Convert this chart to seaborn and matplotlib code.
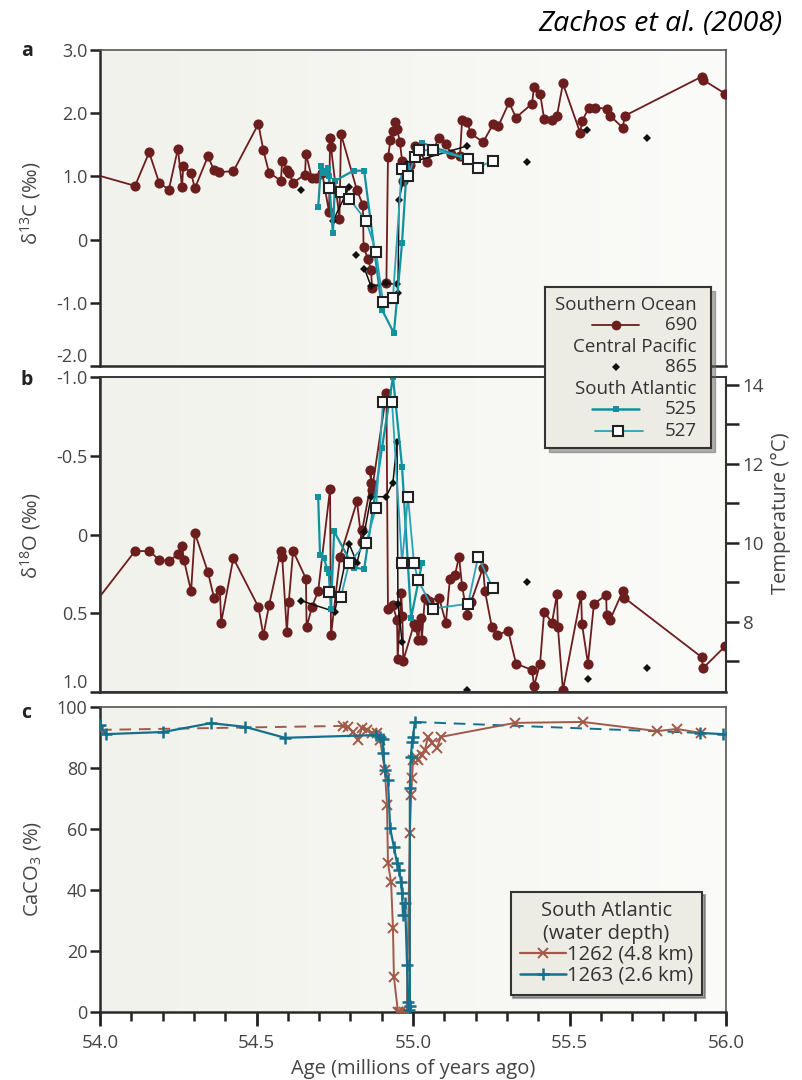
import numpy as np
import pandas as pd
import matplotlib.pyplot as plt
import matplotlib.ticker as mticker
from matplotlib.colors import LinearSegmentedColormap
from matplotlib.lines import Line2D
from matplotlib.patches import Rectangle
import seaborn as sns

# ---------------- panel a : d13C ----------------
a690_age = [53.97, 54.112, 54.157, 54.189, 54.22, 54.249, 54.262, 54.266, 54.291, 54.303, 54.345, 54.364,
            54.38, 54.426, 54.506, 54.522, 54.54, 54.578, 54.582, 54.598, 54.604, 54.617, 54.655, 54.658,
            54.677, 54.69, 54.71, 54.732, 54.735, 54.738, 54.765, 54.77, 54.821, 54.84, 54.842, 54.856,
            54.866, 54.869, 54.915, 54.92, 54.928, 54.935, 54.942, 54.949, 54.958, 54.965, 54.968, 54.99,
            55.006, 55.045, 55.083, 55.105, 55.121, 55.15, 55.157, 55.173, 55.185, 55.224, 55.256, 55.272,
            55.307, 55.329, 55.38, 55.387, 55.406, 55.419, 55.444, 55.46, 55.479, 55.534, 55.54, 55.562,
            55.58, 55.62, 55.63, 55.67, 55.677, 55.923, 55.926, 55.997]
a690_val = [1.05, 0.85, 1.38, 0.90, 0.79, 1.44, 0.83, 1.16, 1.06, 0.81, 1.32, 1.10,
            1.07, 1.08, 1.83, 1.41, 1.06, 0.93, 1.25, 1.10, 1.05, 0.90, 1.03, 1.36,
            0.97, 0.97, 1.05, 0.43, 1.60, 1.46, 0.33, 1.67, 0.78, 0.55, -0.11, -0.31,
            -0.48, -0.76, -0.68, 1.30, 1.57, 1.72, 1.86, 1.75, 1.55, 1.25, 0.93, 1.18,
            1.48, 1.22, 1.61, 1.52, 1.36, 1.33, 1.90, 1.86, 1.68, 1.54, 1.83, 1.79,
            2.17, 1.93, 2.15, 2.42, 2.31, 1.91, 1.90, 1.96, 2.47, 1.69, 1.87, 2.09,
            2.09, 2.07, 1.96, 1.77, 1.96, 2.58, 2.53, 2.31]

a865_age = [54.642, 54.745, 54.796, 54.818, 54.845, 54.866, 54.914, 54.95, 54.952, 54.955, 54.98,
            55.172, 55.364, 55.556, 55.748]
a865_val = [0.78, 0.30, 0.83, -0.25, -0.46, -0.74, -0.69, -0.71, -0.85, 0.62, 1.20,
            1.48, 1.23, 1.74, 1.61]
a865_seg = [0, 1, 1, 2, 3, 3, 3, 3, 3, 3, 3, 3, 4, 5, 6]

a525_age = [54.697, 54.706, 54.712, 54.719, 54.728, 54.731, 54.744, 54.751, 54.81, 54.844, 54.901,
            54.939, 54.965, 54.98, 55.029, 55.16]
a525_val = [0.51, 1.17, 1.05, 1.09, 1.14, 1.00, 0.10, 0.93, 1.09, 1.09, -1.11,
            -1.48, -0.05, 1.14, 1.53, 1.30]

a527_age = [54.732, 54.77, 54.796, 54.85, 54.882, 54.904, 54.936, 54.964, 54.984, 55.006, 55.019,
            55.064, 55.176, 55.208, 55.255]
a527_val = [0.81, 0.76, 0.65, 0.30, -0.19, -0.98, -0.92, 1.12, 1.00, 1.30, 1.41,
            1.42, 1.28, 1.14, 1.25]

# ---------------- panel b : d18O ----------------
b690_age = [53.97, 54.112, 54.157, 54.189, 54.22, 54.249, 54.262, 54.268, 54.291, 54.303, 54.345, 54.364,
            54.383, 54.387, 54.426, 54.506, 54.522, 54.54, 54.578, 54.582, 54.597, 54.603, 54.617, 54.658,
            54.66, 54.677, 54.697, 54.735, 54.738, 54.767, 54.821, 54.836, 54.838, 54.866, 54.863, 54.869,
            54.915, 54.92, 54.935, 54.949, 54.951, 54.962, 54.966, 54.969, 55.003, 55.01, 55.016, 55.025,
            55.028, 55.038, 55.05, 55.083, 55.105, 55.118, 55.134, 55.147, 55.157, 55.173, 55.185, 55.224,
            55.23, 55.252, 55.268, 55.304, 55.329, 55.38, 55.387, 55.406, 55.419, 55.444, 55.46, 55.463,
            55.479, 55.537, 55.54, 55.559, 55.578, 55.617, 55.619, 55.63, 55.67, 55.674, 55.923, 55.926,
            55.997]
b690_val = [0.47, 0.105, 0.105, 0.16, 0.17, 0.125, 0.07, 0.16, 0.36, -0.01, 0.24, 0.40,
            0.35, 0.56, 0.15, 0.46, 0.64, 0.45, 0.105, 0.14, 0.62, 0.43, 0.105, 0.28,
            0.59, 0.46, 0.36, -0.29, 0.64, 0.14, -0.21, 0.05, -0.03, -0.33, -0.41, -0.28,
            -0.90, 0.47, 0.45, 0.54, 0.79, 0.37, 0.52, 0.80, 0.57, 0.59, 0.67, 0.53,
            0.67, 0.40, 0.42, 0.40, 0.56, 0.28, 0.26, 0.14, 0.33, 0.51, 0.43, 0.21,
            0.36, 0.59, 0.64, 0.61, 0.82, 0.86, 0.96, 0.82, 0.49, 0.56, 0.38, 0.59,
            0.99, 0.385, 0.57, 0.82, 0.44, 0.385, 0.51, 0.54, 0.36, 0.40, 0.78, 0.85,
            0.71]

b865_age = [54.642, 54.75, 54.796, 54.821, 54.845, 54.866, 54.914, 54.936, 54.949, 54.952, 54.965,
            55.173, 55.364, 55.559, 55.748]
b865_val = [0.42, 0.49, 0.06, 0.18, -0.015, -0.24, -0.24, -0.33, -0.59, 0.44, 0.68,
            0.99, 0.30, 0.92, 0.85]
b865_seg = [0, 0, 0, 0, 0, 0, 0, 0, 0, 0, 0, 1, 2, 3, 4]

b525_age = [54.697, 54.703, 54.716, 54.725, 54.731, 54.738, 54.748, 54.81, 54.844, 54.901, 54.936,
            54.965, 54.994, 55.029]
b525_val = [-0.24, 0.13, 0.15, 0.22, 0.245, 0.47, -0.02, 0.21, 0.22, -0.55, -1.00,
            -0.43, 0.53, 0.18]

b527_age = [54.732, 54.77, 54.796, 54.85, 54.882, 54.904, 54.933, 54.965, 54.984, 55.003, 55.016,
            55.064, 55.176, 55.208, 55.255]
b527_val = [0.365, 0.395, 0.18, 0.055, -0.17, -0.84, -0.84, 0.18, -0.24, 0.18, 0.29,
            0.47, 0.44, 0.14, 0.34]

# ---------------- panel c : CaCO3 ----------------
c1262_age = [54.0, 54.776, 54.792, 54.808, 54.824, 54.837, 54.853, 54.869, 54.885, 54.895, 54.91,
             54.917, 54.92, 54.93, 54.936, 54.939, 54.952, 54.96, 54.97, 54.98, 54.99, 54.994,
             54.997, 55.0, 55.01, 55.016, 55.029, 55.038, 55.048, 55.06, 55.077, 55.089, 55.326,
             55.543, 55.78, 55.843, 55.92]
c1262_val = [92.5, 93.8, 93.4, 91.8, 89.2, 93.1, 92.5, 91.5, 91.5, 89.2, 79.3,
             67.9, 48.8, 42.6, 27.5, 11.5, 0.0, 0.0, 0.0, 0.0, 58.7, 71.1,
             76.7, 82.6, 83.6, 82.6, 84.3, 85.9, 90.2, 88.2, 86.6, 90.2, 94.8,
             95.1, 92.1, 92.8, 91.5]
c1262_seg = [0] + [1] * 36

c1263_age = [54.0, 54.019, 54.201, 54.355, 54.463, 54.591, 54.882, 54.895, 54.904, 54.905, 54.91,
             54.92, 54.927, 54.939, 54.949, 54.955, 54.962, 54.965, 54.968, 54.975, 54.981, 54.984,
             54.987, 54.99, 54.99, 54.993, 54.997, 55.0, 55.006, 55.917, 55.99]
c1263_val = [94.1, 91.1, 91.8, 94.7, 93.5, 89.9, 90.8, 90.2, 89.5, 84.9, 79.3,
             76.0, 60.3, 54.1, 48.8, 46.6, 42.6, 39.0, 31.8, 35.7, 15.4, 3.3,
             0.7, 2.0, 73.4, 83.6, 88.5, 90.2, 95.1, 91.5, 91.1]
c1263_seg = [0] * 29 + [1] * 2

d18o_ticks = [-1.0, -0.5, 0, 0.5, 1.0]
d18o_labels = ['-1.0', '-0.5', '0', '0.5', '1.0']
d13c_ticks = [3.0, 2.0, 1.0, 0, -1.0, -2.0]
d13c_labels = ['3.0', '2.0', '1.0', '0', '-1.0', '-2.0']
temp_major = [8, 10, 12, 14]
temp_minor = [7, 9, 11, 13]
caco3_ticks = [0, 20, 40, 60, 80, 100]
age_ticks = [54.0, 54.5, 55.0, 55.5, 56.0]

# colours
C690 = '#6c1d1d'
C525 = '#12919f'
C527 = '#2ba3b7'
C865 = '#111111'
C1262 = '#a15a4a'
C1263 = '#15708d'
TXT = '#444444'

sns.set_theme(style='ticks')
plt.rcParams['font.family'] = ['Open Sans', 'DejaVu Sans']
plt.rcParams['axes.edgecolor'] = '#333333'

fig = plt.figure(figsize=(8.03, 10.8), dpi=100)
W, H = 803.0, 1080.0


def px_axes(left, top, right, bottom):
    return fig.add_axes([left / W, 1 - bottom / H, (right - left) / W, (bottom - top) / H])


ax_a = px_axes(100, 50, 726, 366)
ax_b = px_axes(100, 377, 726, 692)
ax_c = px_axes(100, 707, 726, 1012)

bg = LinearSegmentedColormap.from_list('bg', ['#f2f2ec', '#f6f6f2', '#fbfbf9'])
for ax in (ax_a, ax_b, ax_c):
    ax.imshow(np.linspace(0, 1, 256).reshape(1, -1), extent=[0, 1, 0, 1], transform=ax.transAxes,
              cmap=bg, aspect='auto', zorder=-5)
    for side in ['left', 'bottom']:
        ax.spines[side].set_linewidth(1.8)
        ax.spines[side].set_color('#2a2a2a')
    for side in ['top', 'right']:
        ax.spines[side].set_linewidth(1.2)
        ax.spines[side].set_color('#555555')
    ax.tick_params(axis='y', direction='out', length=7, width=1.8, color='#222222',
                   labelsize=13, labelcolor=TXT, pad=2)


def circles(ax, age, val):
    d = pd.DataFrame({'age': age, 'val': val})
    sns.lineplot(data=d, x='age', y='val', ax=ax, sort=False, estimator=None, color=C690, lw=1.3,
                 marker='o', markersize=7.3, markeredgewidth=0, markeredgecolor=C690, zorder=3)


def diamonds(ax, age, val, seg):
    d = pd.DataFrame({'age': age, 'val': val, 'seg': seg})
    sns.lineplot(data=d, x='age', y='val', units='seg', ax=ax, sort=False, estimator=None, color=C865,
                 lw=1.1, marker='D', markersize=3.6, markeredgewidth=0, markeredgecolor=C865, zorder=4)


def filled_sq(ax, age, val):
    d = pd.DataFrame({'age': age, 'val': val})
    sns.lineplot(data=d, x='age', y='val', ax=ax, sort=False, estimator=None, color=C525, lw=1.6,
                 marker='s', markersize=5, markeredgewidth=0, markeredgecolor=C525, zorder=5)


def open_sq(ax, age, val):
    d = pd.DataFrame({'age': age, 'val': val})
    sns.lineplot(data=d, x='age', y='val', ax=ax, sort=False, estimator=None, color=C527, lw=1.3,
                 marker='s', markersize=7.5, markerfacecolor='white', markeredgewidth=1.5,
                 markeredgecolor='#222222', zorder=6)


# panel a
circles(ax_a, a690_age, a690_val)
filled_sq(ax_a, a525_age, a525_val)
diamonds(ax_a, a865_age, a865_val, a865_seg)
open_sq(ax_a, a527_age, a527_val)
ax_a.set_ylim(-2.0, 3.0)
ax_a.set_yticks(d13c_ticks, d13c_labels)
ax_a.get_yticklabels()[-1].set_verticalalignment('bottom')
ax_a.set_ylabel(r'δ$^{\mathregular{13}}$C (‰)', fontsize=14.5, color=TXT)
ax_a.yaxis.set_label_coords(-0.091, 0.516)

# panel b
circles(ax_b, b690_age, b690_val)
filled_sq(ax_b, b525_age, b525_val)
diamonds(ax_b, b865_age, b865_val, b865_seg)
open_sq(ax_b, b527_age, b527_val)
ax_b.set_ylim(1.0, -1.0)
ax_b.set_yticks(d18o_ticks, d18o_labels)
ax_b.get_yticklabels()[-1].set_verticalalignment('bottom')
ax_b.set_ylabel(r'δ$^{\mathregular{18}}$O (‰)', fontsize=14.5, color=TXT)
ax_b.yaxis.set_label_coords(-0.091, 0.495)

# temperature scale (linear in d18O)
ax_t = ax_b.twinx()
t_of_d = lambda d: 10.21 - 3.99 * d
ax_t.set_ylim(t_of_d(1.0), t_of_d(-1.0))
ax_t.set_yticks(temp_major, [str(t) for t in temp_major])
ax_t.yaxis.set_minor_locator(mticker.FixedLocator(temp_minor))
ax_t.tick_params(axis='y', which='both', direction='out', length=9, width=1.8, color='#222222',
                 labelsize=13.5, labelcolor=TXT, pad=3)
ax_t.spines['right'].set_color('#333333')
ax_t.spines['right'].set_linewidth(1.5)
ax_t.set_ylabel('Temperature (°C)', fontsize=14.5, color=TXT)
ax_t.yaxis.set_label_coords(1.071, 0.568)

# panel c
d62 = pd.DataFrame({'age': c1262_age, 'val': c1262_val, 'seg': c1262_seg})
d63 = pd.DataFrame({'age': c1263_age, 'val': c1263_val, 'seg': c1263_seg})
# dashed gaps between segments
ax_c.plot(c1262_age[0:2], c1262_val[0:2], color=C1262, lw=1.4, dashes=(6, 4), zorder=2)
ax_c.plot(c1263_age[28:30], c1263_val[28:30], color=C1263, lw=1.4, dashes=(6, 4), zorder=2)
sns.lineplot(data=d62, x='age', y='val', units='seg', ax=ax_c, sort=False, estimator=None, color=C1262,
             lw=1.4, marker='x', markersize=7, markeredgewidth=1.4, markeredgecolor=C1262, zorder=3)
sns.lineplot(data=d63, x='age', y='val', units='seg', ax=ax_c, sort=False, estimator=None, color=C1263,
             lw=1.6, marker='+', markersize=9, markeredgewidth=1.8, markeredgecolor=C1263, zorder=4)
ax_c.set_ylim(0, 100)
ax_c.set_yticks(caco3_ticks, [str(t) for t in caco3_ticks])
ax_c.set_ylabel(r'CaCO$_{\mathregular{3}}$ (%)', fontsize=14.5, color=TXT)
ax_c.yaxis.set_label_coords(-0.091, 0.469)
ax_c.set_xlabel('Age (millions of years ago)', fontsize=14.5, color=TXT, labelpad=5)

for ax in (ax_a, ax_b, ax_c):
    ax.set_xlim(54.0, 56.0)
for ax in (ax_a, ax_b):
    ax.set_xlabel('')
    ax.tick_params(axis='x', bottom=False, labelbottom=False)

ax_c.set_xticks(age_ticks, [f'{t:.1f}' for t in age_ticks])
ax_c.xaxis.set_minor_locator(mticker.MultipleLocator(0.1))
ax_c.tick_params(axis='x', which='major', direction='out', length=10, width=2, color='#222222',
                 labelsize=13.5, labelcolor=TXT, pad=6)
ax_c.tick_params(axis='x', which='minor', direction='out', length=6.5, width=1.8, color='#222222')

leg_c = ax_c.legend(
    handles=[Line2D([], [], color=C1262, lw=1.6, marker='x', ms=7, mew=1.4),
             Line2D([], [], color=C1263, lw=1.8, marker='+', ms=9, mew=1.8)],
    labels=['1262 (4.8 km)', '1263 (2.6 km)'],
    title='South Atlantic\n(water depth)', fontsize=14.5, title_fontsize=14.5,
    loc='lower right', bbox_to_anchor=(0.962, 0.056), borderaxespad=0,
    handlelength=2.3, handletextpad=0.05, labelspacing=0.05, borderpad=0.45,
    frameon=True, fancybox=False, framealpha=1, facecolor='#ecece4', edgecolor='#333333',
    shadow={'color': '#555555', 'alpha': 0.5})
leg_c.get_frame().set_linewidth(1.5)
for t in leg_c.get_texts():
    t.set_color('#333333')
leg_c.get_title().set_color('#333333')
leg_c.get_title().set_multialignment('center')

# legend shared by panels a and b (drawn as its own box)
L, T, R, B = 545, 287, 711, 448
fig.patches.append(Rectangle(((L + 4) / W, 1 - (B + 4) / H), (R - L) / W, (B - T) / H,
                             transform=fig.transFigure, color='#666666', alpha=0.5, zorder=8))
lax = px_axes(L, T, R, B)
lax.set_zorder(10)
lax.set_facecolor('#ecece4')
lax.set_xlim(L, R)
lax.set_ylim(B, T)
lax.set_xticks([])
lax.set_yticks([])
for s in lax.spines.values():
    s.set_color('#333333')
    s.set_linewidth(1.5)
leg_rows = [('Southern Ocean', None, 305), ('690', 'c690', 325),
            ('Central Pacific', None, 347), ('865', 'c865', 367),
            ('South Atlantic', None, 389), ('525', 'c525', 409), ('527', 'c527', 431)]
for label, key, yy in leg_rows:
    lax.text(697, yy, label, ha='right', va='center', fontsize=13.5, color='#333333')
    if key == 'c690':
        lax.plot([592, 616, 639], [yy] * 3, color=C690, lw=1.3, marker='o', ms=7, mew=0, markevery=[1])
    elif key == 'c865':
        lax.plot([616], [yy], color=C865, marker='D', ms=3.6, mew=0, ls='none')
    elif key == 'c525':
        lax.plot([592, 616, 639], [yy] * 3, color=C525, lw=1.8, marker='s', ms=5, mew=0, markevery=[1])
    elif key == 'c527':
        lax.plot([595, 618, 643], [yy] * 3, color=C527, lw=1.3, marker='s', ms=7.5, mfc='white',
                 mec='#222222', mew=1.5, markevery=[1])

# panel letters and citation
for letter, yy in [('a', 51), ('b', 380), ('c', 713)]:
    fig.text(21 / W, 1 - yy / H, letter, fontsize=14, fontweight='bold', color='#222222',
             ha='left', va='center')
fig.text(783 / W, 1 - 31 / H, 'Zachos et al. (2008)', fontsize=20.5, style='italic', color='black',
         ha='right', va='baseline')

fig.savefig('out.png', dpi=100)
